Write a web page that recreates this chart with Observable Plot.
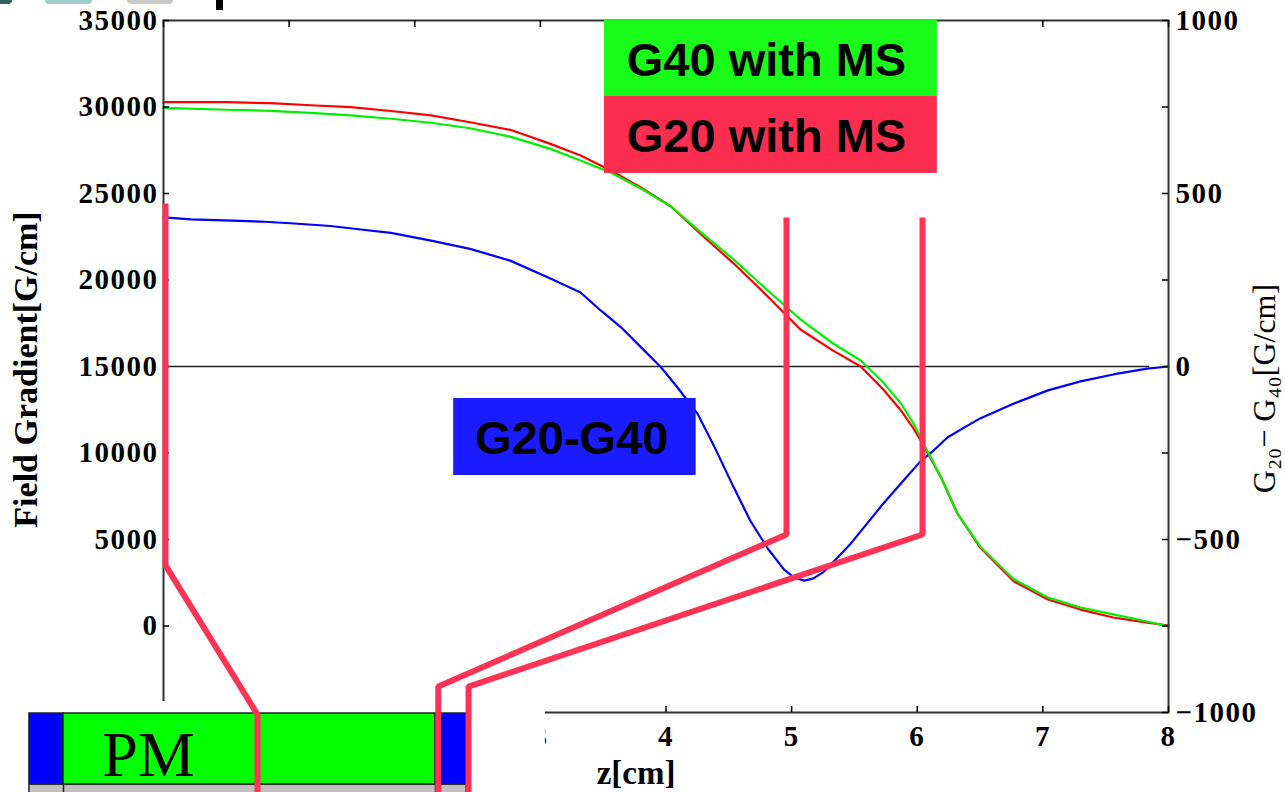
<!DOCTYPE html>
<html><head><meta charset="utf-8">
<script src="https://cdn.jsdelivr.net/npm/d3@7"></script>
<script src="https://cdn.jsdelivr.net/npm/@observablehq/plot@0.6"></script>
<style>
html,body{margin:0;padding:0;background:#fff;}
#wrap{position:relative;width:1285px;height:792px;overflow:hidden;background:#fff;}
#chart svg{display:block;}
.deco{position:absolute;top:0;height:4px;border-radius:0 0 5px 5px;}
g[aria-label="y-axis tick label"] text, g[aria-label="x-axis tick label"] text{letter-spacing:1.5px;}
</style></head><body>
<div id="wrap">
<div id="chart"></div>
<div class="deco" style="left:0;width:12px;background:#2f6262;border-radius:0 0 5px 0"></div>
<div class="deco" style="left:45px;width:47px;background:#9dcfcf"></div>
<div class="deco" style="left:127px;width:46px;background:#c8c8c8"></div>
<div class="deco" style="left:216px;width:7px;height:10px;background:#000;border-radius:0"></div>
</div>
<script>
// ---- data ----
const zG  = [0,0.51,0.85,1.17,1.49,1.81,2.13,2.44,2.76,3.08,3.32,3.56,3.8,4.04,4.28,4.54,4.81,5.07,5.33,5.55,5.73,5.87,5.97,6.05,6.19,6.32,6.5,6.77,7.04,7.3,7.56,7.83,8];
const g20 = [30280,30280,30220,30100,29990,29770,29520,29120,28680,27870,27200,26330,25350,24250,22630,20950,19050,17140,15920,15000,13670,12460,11420,10430,8580,6500,4540,2570,1530,950,490,200,30];
const g40 = [29950,29840,29780,29660,29520,29320,29090,28770,28290,27580,26910,26210,25290,24250,22740,21180,19390,17720,16330,15350,14070,12860,11710,10550,8580,6500,4600,2690,1650,1070,670,260,-30];
const zD  = [0,0.22,0.77,1.01,1.33,1.57,1.81,2.13,2.44,2.76,3.08,3.32,3.48,3.64,3.8,3.96,4.09,4.25,4.38,4.54,4.67,4.81,4.94,5.02,5.1,5.17,5.25,5.33,5.47,5.6,5.73,5.87,6.03,6.13,6.24,6.4,6.5,6.77,7.04,7.3,7.56,7.83,8];
const diff = [431,425,419,414,406,396,386,364,340,306,254,214,162,114,56,-2,-60,-136,-228,-350,-445,-526,-587,-610,-619,-613,-595,-566,-512,-454,-396,-338,-272,-243,-205,-171,-150,-107,-69,-43,-23,-6,0];

// ticks
const xTicks = [0,1,2,3,4,5,6,7,8];
const xLabelTicks = [3,4,5,6,7,8];          // 0-2 are hidden behind the PM sketch
const yTicks = [-5000,0,5000,10000,15000,20000,25000,30000,35000];
const yLabelTicks = [0,5000,10000,15000,20000,25000,30000,35000];
const rLabelTicks = [-1000,-500,0,500,1000];
const rMinorTicks = [-1000,-750,-500,-250,0,250,500,750,1000];

// labels
const xLabel = "z[cm]";
const yLabel = "Field Gradient[G/cm]";
const rLabel = "G\u2082\u2080\u2212 G\u2084\u2080[G/cm]";

// annotation boxes (data units)
const boxLabels = ["G40 with MS","G20 with MS","G20-G40"];
const boxColors = ["#19fb19","#fc2e50","#1b1bff"];
const boxZ1 = [3.51,3.51,2.31];
const boxZ2 = [6.16,6.16,4.24];
const boxTop = [35000,30610,13150];
const boxBottom = [30610,26160,8700];
const boxTextZ = [4.80,4.80,3.25];
const boxTextY = [32690,28290,10840];

// magnet (PM) sketch at the bottom (data units)
const pmZ1 = [-1.067,-0.796,2.165];
const pmZ2 = [-0.796,2.165,2.412];
const pmColors = ["#0000ff","#00ff00","#0000ff"];
const pmTop = -5058, pmBottom = -9161, stripBottom = -10200;
const coverZ = [-1.32, 3.04], coverTop = -4370;

// pink guide lines (data units)
const pinkZ = [[0.016,0.016,0.748,0.748],[4.959,4.959,2.187,2.187],[6.042,6.042,2.428,2.428]];
const pinkV = [[24420,3500,-5115,-10200],[23610,5290,-3500,-10200],[23610,5290,-3500,-10200]];

// ---- helpers ----
const toLeft = d => 15000 + 20 * d;   // right axis (G20-G40) onto left scale
const fmtR = v => v < 0 ? "\u2212" + Math.abs(v) : String(v);
const serif = "'Liberation Serif','Times New Roman',serif";
const sans = "'Liberation Sans',Arial,sans-serif";
const pinkPts = pinkZ.flatMap((zs, k) => zs.map((z, i) => ({k, z, v: pinkV[k][i]})));
const boxIdx = boxLabels.map((_, i) => i);
const pmIdx = pmZ1.map((_, i) => i);

const chart = Plot.plot({
  width: 1285, height: 792,
  marginLeft: 163, marginRight: 117, marginTop: 20, marginBottom: 80,
  x: {domain: [0, 8]},
  y: {domain: [-5000, 35000]},
  style: {background: "#fff", overflow: "visible"},
  marks: [
    Plot.ruleY([15000], {x1: 0, x2: 7.85, stroke: "#222", strokeWidth: 1.5}),
    Plot.line(zD, {x: zD, y: diff.map(toLeft), stroke: "#0000ff", strokeWidth: 2.2, strokeLinejoin: "miter"}),
    Plot.line(zG, {x: zG, y: g20, stroke: "#ff0000", strokeWidth: 2.2}),
    Plot.line(zG, {x: zG, y: g40, stroke: "#00f000", strokeWidth: 2.2}),
    Plot.frame({stroke: "#333", strokeWidth: 2}),
    Plot.tickY(yTicks, {y: d => d, insetRight: 999, stroke: "#000", strokeWidth: 1.5}),
    Plot.tickY(rMinorTicks.map(toLeft), {y: d => d, insetLeft: 999, stroke: "#000", strokeWidth: 1.5}),
    Plot.tickX(xTicks, {x: d => d, insetTop: 686, stroke: "#000", strokeWidth: 1.5}),
    Plot.tickX(xTicks, {x: d => d, insetBottom: 685, stroke: "#000", strokeWidth: 1.5}),
    Plot.axisY(yLabelTicks, {anchor: "left", tickSize: 0, tickPadding: 5, tickFormat: d => String(d), label: null,
      fontSize: 29, fontWeight: "bold", fontFamily: serif, fill: "#000"}),
    Plot.axisY(rLabelTicks.map(toLeft), {anchor: "right", tickSize: 0, tickPadding: 7, tickFormat: d => fmtR((d - 15000) / 20), label: null,
      fontSize: 29, fontWeight: "bold", fontFamily: serif, fill: "#000"}),
    Plot.axisX(xLabelTicks, {anchor: "bottom", tickSize: 0, tickPadding: 13, tickFormat: d => String(d), label: null,
      fontSize: 29, fontWeight: "bold", fontFamily: serif, fill: "#000"}),
    Plot.text([yLabel], {frameAnchor: "left", textAnchor: "middle", dx: -137, dy: 3, rotate: -90, fontSize: 34, fontWeight: "bold", fontFamily: serif, fill: "#000"}),
    Plot.text([rLabel], {frameAnchor: "right", textAnchor: "middle", dx: 96, dy: 22, rotate: -90, fontSize: 32, fontFamily: serif, fill: "#000"}),
    Plot.text([xLabel], {frameAnchor: "bottom", lineAnchor: "middle", dx: -30, dy: 61, fontSize: 33, fontWeight: "bold", fontFamily: serif, fill: "#000"}),
    Plot.rect(boxIdx, {x1: i => boxZ1[i], x2: i => boxZ2[i], y1: i => boxBottom[i], y2: i => boxTop[i], fill: i => boxColors[i]}),
    Plot.text(boxIdx, {x: i => boxTextZ[i], y: i => boxTextY[i], text: i => boxLabels[i], lineAnchor: "middle",
      fontSize: 47, fontWeight: "bold", fontFamily: sans, fill: "#000"}),
    Plot.rect([0], {x1: coverZ[0], x2: coverZ[1], y1: stripBottom - 500, y2: coverTop, fill: "#fff"}),
    Plot.rect([0], {x1: pmZ1[0], x2: pmZ2[2], y1: stripBottom, y2: pmBottom, fill: "#c0c0c0", stroke: "#222", strokeWidth: 1.5}),
    Plot.rect(pmIdx, {x1: i => pmZ1[i], x2: i => pmZ2[i], y1: pmBottom, y2: pmTop, fill: i => pmColors[i], stroke: "#222", strokeWidth: 1.5}),
    Plot.ruleX([pmZ2[0], pmZ2[1]], {y1: stripBottom, y2: pmBottom, stroke: "#222", strokeWidth: 1.5}),
    Plot.text(["PM"], {x: -0.119, y: -7514, lineAnchor: "middle", fontSize: 64, fontFamily: serif, fill: "#000"}),
    Plot.line(pinkPts, {x: "z", y: "v", z: "k", stroke: "#ff3355", strokeWidth: 6, strokeLinecap: "butt", strokeLinejoin: "miter"})
  ]
});
document.getElementById("chart").appendChild(chart);
</script>
</body></html>
